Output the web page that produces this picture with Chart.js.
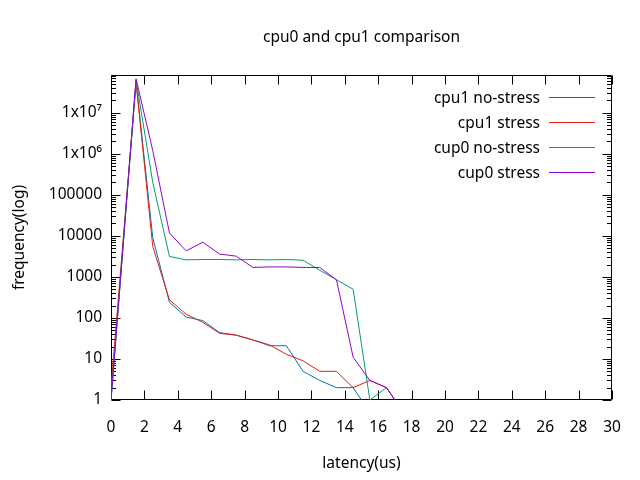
<!DOCTYPE html>
<html>
<head>
<meta charset="utf-8">
<title>cpu0 and cpu1 comparison</title>
<script src="https://cdn.jsdelivr.net/npm/chart.js@4.4.1/dist/chart.umd.min.js"></script>
<style>
  html, body { margin: 0; padding: 0; background: #fff; }
  canvas { display: block; }
</style>
</head>
<body>
<canvas id="chart" width="640" height="480"></canvas>
<script>
// latency buckets (us)
const latency = [0, 1.5, 2.5, 3.5, 4.5, 5.5, 6.5, 7.5, 8.5, 9.5, 10.5, 11.5, 12.5, 13.5, 14.5, 15.5, 16.5, 17.5];

// frequencies
const cpu1NoStress = [1, 5.8e7, 9000, 240, 105, 86, 44, 38, 29, 21, 21, 5, 3, 2, 2, 0.5];
const cpu1Stress   = [2, 5.4e7, 5500, 275, 123, 78, 42, 38, 29, 22, 13, 9, 5, 5, 2, 3, 2, 0.5];
const cup0NoStress = [1, 6.3e7, 2e5, 3150, 2600, 2650, 2650, 2600, 2650, 2600, 2650, 2550, 1450, 850, 500, 1, 2, 0.5];
const cup0Stress   = [1, 6.7e7, 1.2e6, 11700, 4300, 7000, 3600, 3200, 1700, 1750, 1750, 1700, 1690, 850, 11, 3, 2, 0.5];

const seriesLabels = ['cpu1 no-stress', 'cpu1 stress', 'cup0 no-stress', 'cup0 stress'];
const seriesColors = ['#0072b2', '#e51e10', '#009e73', '#9400d3'];
const seriesValues = [cpu1NoStress, cpu1Stress, cup0NoStress, cup0Stress];

const xTickValues = [0, 2, 4, 6, 8, 10, 12, 14, 16, 18, 20, 22, 24, 26, 28, 30];
const yTickValues = [1, 10, 100, 1000, 10000, 100000, 1e6, 1e7];
const yTickLabels = ['1', '10', '100', '1000', '10000', '100000', '1x10\u2076', '1x10\u2077'];

const FONT = '"Noto Sans", "Open Sans", sans-serif';
const FONT_SIZE = 15.5;
Chart.defaults.color = '#000';
Chart.defaults.font.family = FONT;
Chart.defaults.font.size = FONT_SIZE;

// gnuplot style box with inward ticks on all four sides
const frame = {
    id: 'frame',
    beforeDatasetsDraw(chart) {
        const { ctx, chartArea: a, scales: { x, y } } = chart;
        const L = Math.round(a.left) + 0.5, R = Math.round(a.right) - 0.5;
        const T = Math.round(a.top) + 0.5, B = Math.round(a.bottom) - 0.5;
        ctx.save();
        ctx.strokeStyle = '#000';
        ctx.lineWidth = 1;
        ctx.beginPath();
        ctx.rect(L, T, R - L, B - T);

        xTickValues.forEach(v => {
            const px = Math.round(x.getPixelForValue(v)) + 0.5;
            ctx.moveTo(px, B); ctx.lineTo(px, B - 9);
            ctx.moveTo(px, T); ctx.lineTo(px, T + 9);
        });

        yTickValues.forEach(d => {
            const py = Math.round(y.getPixelForValue(d)) + 0.5;
            ctx.moveTo(L, py); ctx.lineTo(L + 9, py);
            ctx.moveTo(R, py); ctx.lineTo(R - 9, py);
            for (let m = 2; m <= 9; m++) {
                const v = d * m;
                if (v > y.max) break;
                const pm = Math.round(y.getPixelForValue(v)) + 0.5;
                ctx.moveTo(L, pm); ctx.lineTo(L + 4.5, pm);
                ctx.moveTo(R, pm); ctx.lineTo(R - 4.5, pm);
            }
        });
        ctx.stroke();
        ctx.restore();
    },
    afterDraw(chart) {
        const { ctx } = chart;
        ctx.save();
        ctx.font = FONT_SIZE + 'px ' + FONT;
        ctx.textAlign = 'right';
        ctx.textBaseline = 'middle';
        chart.data.datasets.forEach((ds, i) => {
            const ly = 97.5 + i * 25;
            ctx.fillStyle = '#000';
            ctx.fillText(ds.label, 540, ly + 1);
            ctx.strokeStyle = ds.borderColor;
            ctx.lineWidth = 1;
            ctx.beginPath();
            ctx.moveTo(549, ly);
            ctx.lineTo(595, ly);
            ctx.stroke();
        });
        ctx.restore();
    }
};

const datasets = seriesLabels.map((label, i) => ({
    label: label,
    data: seriesValues[i].map((v, j) => ({ x: latency[j], y: v })),
    borderColor: seriesColors[i],
    backgroundColor: seriesColors[i],
    borderWidth: 1,
    pointRadius: 0,
    tension: 0,
    fill: false,
    order: seriesLabels.length - i
}));

new Chart(document.getElementById('chart'), {
    type: 'line',
    data: { datasets },
    plugins: [frame],
    options: {
        responsive: false,
        animation: false,
        events: [],
        layout: { padding: { left: 0, right: 28, top: 0, bottom: 0 } },
        plugins: {
            legend: { display: false },
            tooltip: { enabled: false },
            title: {
                display: true,
                text: 'cpu0 and cpu1 comparison',
                fullSize: false,
                color: '#000',
                font: { size: FONT_SIZE, weight: 'normal', lineHeight: 1.2 },
                padding: { top: 28.7, bottom: 27.7 }
            }
        },
        scales: {
            x: {
                type: 'linear',
                min: 0,
                max: 30,
                afterBuildTicks: s => { s.ticks = xTickValues.map(v => ({ value: v })); },
                afterFit: s => { s.height = 80; },
                ticks: { padding: 18, maxRotation: 0, autoSkip: false },
                grid: { display: false, drawTicks: false },
                border: { display: false },
                title: {
                    display: true,
                    text: 'latency(us)',
                    padding: { top: 0, bottom: 7.3 }
                }
            },
            y: {
                type: 'logarithmic',
                min: 1,
                max: 8.3e7,
                afterBuildTicks: s => { s.ticks = yTickValues.map(v => ({ value: v })); },
                afterFit: s => { s.width = 111; },
                ticks: {
                    padding: 9,
                    autoSkip: false,
                    callback: v => yTickLabels[yTickValues.indexOf(v)]
                },
                grid: { display: false, drawTicks: false },
                border: { display: false },
                title: {
                    display: true,
                    text: 'frequency(log)',
                    padding: { top: 10.5, bottom: 0 }
                }
            }
        }
    }
});
</script>
</body>
</html>
